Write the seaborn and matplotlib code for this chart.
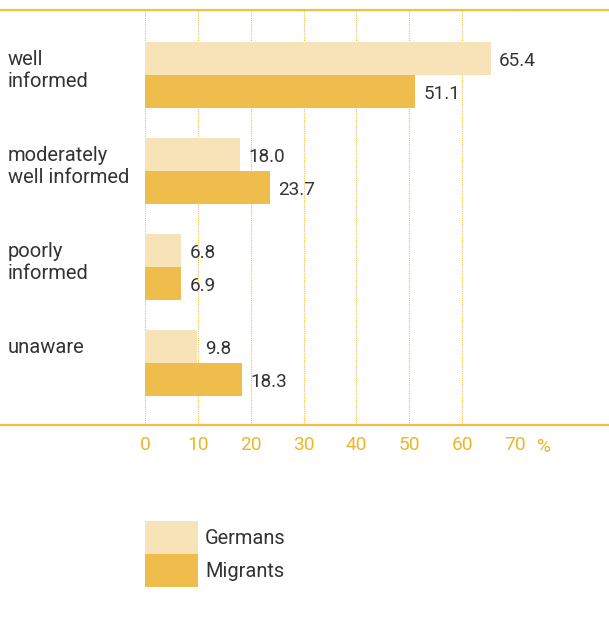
import pandas as pd
import seaborn as sns
import matplotlib.pyplot as plt
from matplotlib.lines import Line2D
from matplotlib.patches import Rectangle
from matplotlib.legend_handler import HandlerPatch
from matplotlib.transforms import blended_transform_factory

# Data
categories = ['well\ninformed', 'moderately\nwell informed', 'poorly\ninformed', 'unaware']
germans = [65.4, 18.0, 6.8, 9.8]
migrants = [51.1, 23.7, 6.9, 18.3]
groups = ['Germans', 'Migrants']
x_ticks = [0, 10, 20, 30, 40, 50, 60, 70]

df = pd.DataFrame({
    'category': categories * 2,
    'value': germans + migrants,
    'group': [groups[0]] * 4 + [groups[1]] * 4,
})

light = '#F8E3B8'
dark = '#EEBD4C'
line_col = '#F0C040'
tick_col = '#EDB52A'
text_col = '#333333'

sns.set_style('white')
plt.rcParams['font.family'] = ['Roboto', 'DejaVu Sans']

W, H = 609, 644
fig = plt.figure(figsize=(W / 100, H / 100), dpi=100)
ax = fig.add_axes([145 / W, (H - 425) / H, 370 / W, 415 / H])

sns.barplot(data=df, y='category', x='value', hue='group', orient='h',
            palette=[light, dark], width=0.68, saturation=1, linewidth=0,
            ax=ax, legend=False)

ax.set_xlim(0, 70)
ax.set_ylim(3.646, -0.677)
for s in ax.spines.values():
    s.set_visible(False)

# dotted gridlines
for x in x_ticks:
    ax.axvline(x, color=line_col, lw=0.8, ls=(0, (1, 1)), zorder=0)

# full-width frame lines
fig.add_artist(Line2D([0, 1], [(H - 10) / H] * 2, color=line_col, lw=1.6))
fig.add_artist(Line2D([0, 1], [(H - 425) / H] * 2, color=line_col, lw=1.6))

ax.set_xticks(x_ticks)
ax.set_xticklabels([str(t) for t in x_ticks], color=tick_col, fontsize=13.8)
ax.tick_params(axis='x', length=0, pad=8)
ax.text(75.4, -(452 - 425) / 415, '%',
        transform=blended_transform_factory(ax.transData, ax.transAxes),
        color=tick_col, fontsize=13.8, ha='center', va='baseline')

# category labels, top-aligned with each bar pair, left edge of the figure
ax.set_yticks([])
ax.set_xlabel('')
ax.set_ylabel('')
lab_tr = blended_transform_factory(fig.transFigure, ax.transData)
for i, c in enumerate(categories):
    ax.text(8 / W, i - 0.34 + 8 / 96, c, transform=lab_tr, ha='left', va='top',
            fontsize=14.5, color=text_col, linespacing=1.2)

for cont in ax.containers:
    for ann in ax.bar_label(cont, fmt='%.1f', padding=6, fontsize=13.6, color=text_col):
        ann.xyann = (6, -2)

handles = [Rectangle((0, 0), 1, 1, facecolor=c, linewidth=0) for c in (light, dark)]
leg = ax.legend(handles, groups, loc='upper left',
                bbox_to_anchor=(145 / W, (H - 521) / H),
                bbox_transform=fig.transFigure, frameon=False, fontsize=14.4,
                handlelength=2.65, handleheight=2.16, labelspacing=0,
                handletextpad=0.35, borderpad=0, borderaxespad=0,
                handler_map={Rectangle: HandlerPatch(xpad=0, ypad=0)})
for t in leg.get_texts():
    t.set_color(text_col)

fig.savefig('out.png', dpi=100)
